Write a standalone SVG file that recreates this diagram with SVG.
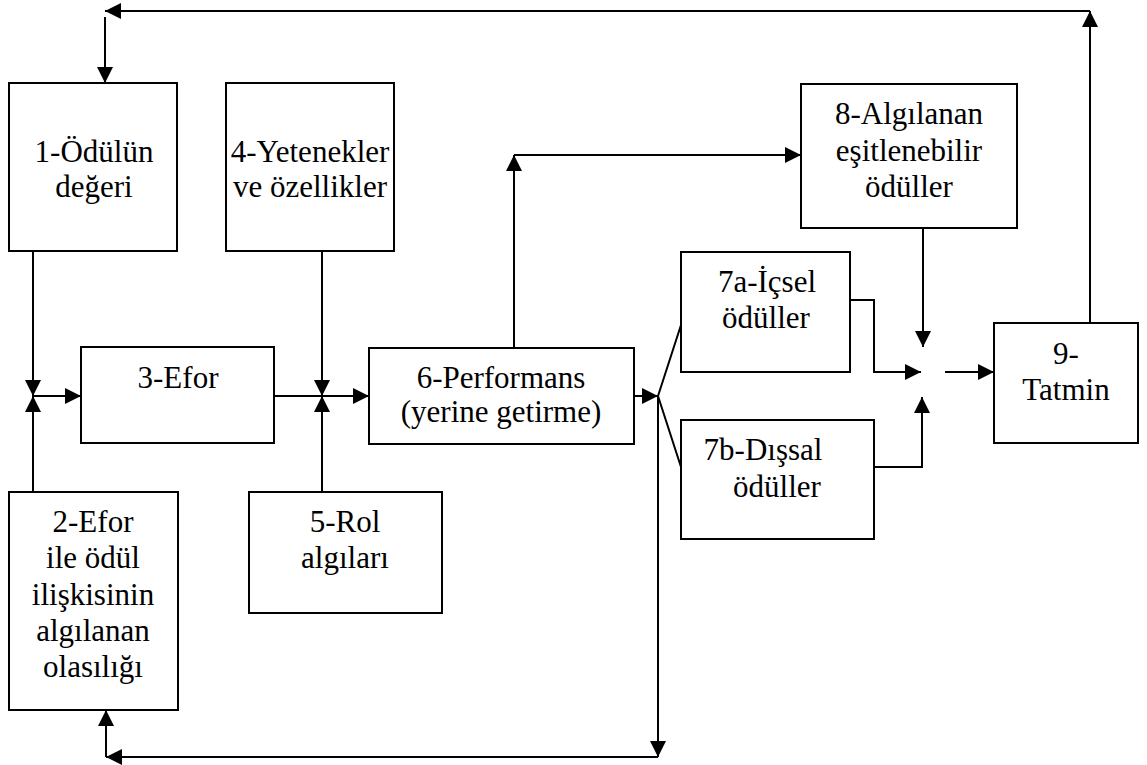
<svg xmlns="http://www.w3.org/2000/svg" width="1147" height="765" viewBox="0 0 1147 765">
<defs>
<marker id="ah" markerUnits="userSpaceOnUse" markerWidth="17" markerHeight="17" refX="16" refY="8" orient="auto">
<path d="M0,0 L16,8 L0,16 z" fill="#000"/>
</marker>
<style>
.box{fill:#fff;stroke:#000;stroke-width:2}
.c{fill:none;stroke:#000;stroke-width:2}
.a{marker-end:url(#ah)}
.t{font-family:"Times New Roman",Times,"Liberation Serif","DejaVu Serif",serif;font-size:31px;fill:#000;text-anchor:middle}
</style>
</defs>
<rect width="1147" height="765" fill="#fff"/>
<g id="connectors">
<path class="c a" d="M1090,323 V11"/>
<path class="c a" d="M1090,11 H105"/>
<path class="c a" d="M105,17 V83"/>
<path class="c a" d="M33,251 V396"/>
<path class="c a" d="M33,492 V396"/>
<path class="c a" d="M33,396 H81"/>
<path class="c" d="M274,396 H322"/>
<path class="c a" d="M322,251 V396"/>
<path class="c a" d="M322,492 V396"/>
<path class="c a" d="M322,396 H369"/>
<path class="c a" d="M634,396 H658"/>
<path class="c" d="M658,396 L681,325 M658,396 L681,467"/>
<path class="c a" d="M658,396 V757"/>
<path class="c a" d="M658,757 H106"/>
<path class="c a" d="M106,757 V710"/>
<path class="c a" d="M514,348 V155"/>
<path class="c a" d="M514,155 H801"/>
<path class="c a" d="M923,228 V347"/>
<path class="c a" d="M850,300 H874 V372 H921"/>
<path class="c a" d="M874,467 H922 V397"/>
<path class="c a" d="M945,372 H994"/>
</g>
<g id="n1"><rect class="box" x="9" y="83" width="168" height="168"/><text class="t" x="94" y="162">1-Ödülün</text><text class="t" x="94" y="197">değeri</text></g>
<g id="n4"><rect class="box" x="226" y="83" width="168" height="168"/><text class="t" x="310" y="162">4-Yetenekler</text><text class="t" x="310" y="197">ve özellikler</text></g>
<g id="n3"><rect class="box" x="81" y="347" width="193" height="96"/><text class="t" x="178" y="388">3-Efor</text></g>
<g id="n6"><rect class="box" x="369" y="348" width="265" height="96"/><text class="t" x="501" y="388">6-Performans</text><text class="t" x="501" y="422">(yerine getirme)</text></g>
<g id="n2"><rect class="box" x="9" y="492" width="169" height="218"/><text class="t" x="93" y="532">2-Efor</text><text class="t" x="93" y="568">ile ödül</text><text class="t" x="93" y="605">ilişkisinin</text><text class="t" x="93" y="641">algılanan</text><text class="t" x="93" y="677">olasılığı</text></g>
<g id="n5"><rect class="box" x="249" y="492" width="193" height="121"/><text class="t" x="345" y="532">5-Rol</text><text class="t" x="345" y="568">algıları</text></g>
<g id="n7a"><rect class="box" x="681" y="252" width="169" height="120"/><text class="t" x="767" y="292">7a-İçsel</text><text class="t" x="766" y="328">ödüller</text></g>
<g id="n7b"><rect class="box" x="681" y="420" width="193" height="119"/><text class="t" x="763" y="460">7b-Dışsal</text><text class="t" x="777" y="497">ödüller</text></g>
<g id="n8"><rect class="box" x="801" y="84" width="216" height="144"/><text class="t" x="909" y="124">8-Algılanan</text><text class="t" x="909" y="161">eşitlenebilir</text><text class="t" x="909" y="197">ödüller</text></g>
<g id="n9"><rect class="box" x="994" y="323" width="144" height="120"/><text class="t" x="1066" y="364">9-</text><text class="t" x="1066" y="400">Tatmin</text></g>
</svg>
